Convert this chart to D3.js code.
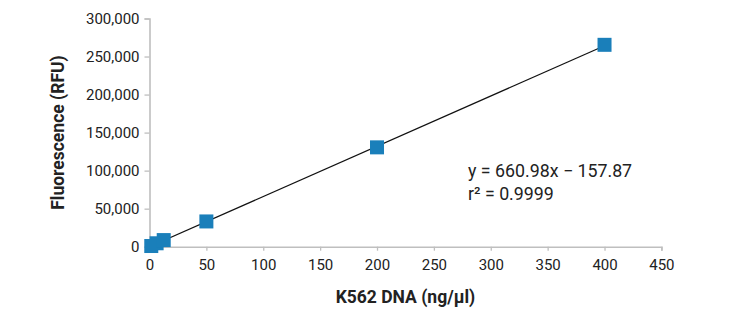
<!DOCTYPE html>
<html>
<head>
<meta charset="utf-8">
<script src="https://cdn.jsdelivr.net/npm/d3@7"></script>
<style>
  html, body { margin: 0; padding: 0; background: #fff; }
  svg { display: block; }
  text { font-family: Roboto, "Noto Sans", sans-serif; fill: #222; }
</style>
</head>
<body>
<svg id="chart" width="732" height="323"></svg>
<script>
// Standard curve: DNA concentration vs. fluorescence
const concentration = [1.56, 6.25, 12.5, 50, 200, 400];      // ng/µl
const fluorescence  = [900, 4500, 8700, 33200, 130600, 265400]; // RFU
const xTicks = [0, 50, 100, 150, 200, 250, 300, 350, 400, 450];
const yTicks = [0, 50000, 100000, 150000, 200000, 250000, 300000];
const slope = 660.98, intercept = -157.87, rSquared = 0.9999;
const fitRange = [0, 400];

const svg = d3.select("#chart");
const x = d3.scaleLinear().domain([0, 450]).range([149.5, 661.4]);
const y = d3.scaleLinear().domain([0, 300000]).range([246.7, 18.5]);

const axisColor = "#bfbfbf";

// y axis
const gy = svg.append("g")
  .attr("transform", `translate(${x(0)},0)`)
  .call(d3.axisLeft(y).tickValues(yTicks).tickFormat(d3.format(",")).tickSize(5).tickPadding(5));
// x axis
const gx = svg.append("g")
  .attr("transform", `translate(0,${y(0)})`)
  .call(d3.axisBottom(x).tickValues(xTicks).tickSize(4).tickPadding(9));

[gx, gy].forEach(g => {
  g.select(".domain").attr("stroke", axisColor).attr("stroke-width", 1.6);
  g.selectAll(".tick line").attr("stroke", axisColor).attr("stroke-width", 1.3);
  g.selectAll(".tick text").attr("font-size", 15).attr("fill", "#1e1e1e")
    .style("font-family", "Roboto, sans-serif");
});

// linear fit
svg.append("line")
  .attr("x1", x(fitRange[0])).attr("y1", y(slope * fitRange[0] + intercept))
  .attr("x2", x(fitRange[1])).attr("y2", y(slope * fitRange[1] + intercept))
  .attr("stroke", "#111").attr("stroke-width", 1.2);

// data markers
const s = 14;
svg.append("g").selectAll("rect")
  .data(concentration.map((c, i) => [c, fluorescence[i]]))
  .join("rect")
  .attr("x", d => x(d[0]) - s / 2)
  .attr("y", d => y(d[1]) - s / 2)
  .attr("width", s).attr("height", s)
  .attr("fill", "#1a7fba");

// equation
svg.append("text").attr("x", 468).attr("y", 177).attr("font-size", 17.8)
  .text(`y = ${slope}x − ${Math.abs(intercept)}`);
svg.append("text").attr("x", 468).attr("y", 200).attr("font-size", 17.8)
  .text(`r² = ${rSquared}`);

// axis titles
svg.append("text")
  .attr("x", (x.range()[0] + x.range()[1]) / 2).attr("y", 303)
  .attr("text-anchor", "middle").attr("font-size", 17.5).attr("font-weight", "bold")
  .text("K562 DNA (ng/µl)");
svg.append("text")
  .attr("transform", `translate(64,${(y.range()[0] + y.range()[1]) / 2}) rotate(-90)`)
  .attr("text-anchor", "middle").attr("font-size", 17.5).attr("font-weight", "bold")
  .text("Fluorescence (RFU)");
</script>
</body>
</html>
